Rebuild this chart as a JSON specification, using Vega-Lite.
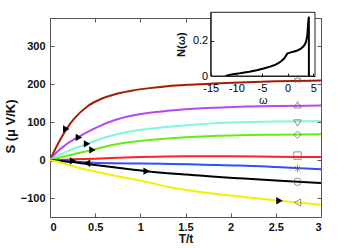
{
  "$schema": "https://vega.github.io/schema/vega-lite/v6.json",
  "width": 271,
  "height": 199,
  "autosize": {"type": "none"},
  "padding": {"left": 50, "top": 18, "right": 34, "bottom": 31},
  "background": "white",
  "config": {
    "view": {"stroke": null},
    "font": "Liberation Sans",
    "axis": {"grid": false, "domainColor": "#555", "tickColor": "#555", "labelColor": "#111", "titleColor": "#111", "labelOverlap": false}
  },
  "layer": [
    {
      "layer": [
        {
          "data": {"values": [
            {"s": "s1", "x": 0, "y": 0}, {"s": "s1", "x": 0.06, "y": 30}, {"s": "s1", "x": 0.125, "y": 59}, {"s": "s1", "x": 0.18, "y": 81}, {"s": "s1", "x": 0.27, "y": 110}, {"s": "s1", "x": 0.42, "y": 143}, {"s": "s1", "x": 0.57, "y": 162}, {"s": "s1", "x": 0.72, "y": 174}, {"s": "s1", "x": 0.9, "y": 183}, {"s": "s1", "x": 1.1, "y": 190}, {"s": "s1", "x": 1.3, "y": 195}, {"s": "s1", "x": 1.55, "y": 199}, {"s": "s1", "x": 1.8, "y": 202}, {"s": "s1", "x": 2.1, "y": 205}, {"s": "s1", "x": 2.5, "y": 208}, {"s": "s1", "x": 3, "y": 210},
            {"s": "s2", "x": 0, "y": 0}, {"s": "s2", "x": 0.08, "y": 22}, {"s": "s2", "x": 0.16, "y": 38}, {"s": "s2", "x": 0.32, "y": 62}, {"s": "s2", "x": 0.53, "y": 88}, {"s": "s2", "x": 0.72, "y": 106}, {"s": "s2", "x": 0.9, "y": 117}, {"s": "s2", "x": 1.1, "y": 125}, {"s": "s2", "x": 1.3, "y": 130}, {"s": "s2", "x": 1.55, "y": 135}, {"s": "s2", "x": 1.8, "y": 138}, {"s": "s2", "x": 2.1, "y": 141}, {"s": "s2", "x": 2.5, "y": 143}, {"s": "s2", "x": 3, "y": 144},
            {"s": "s3", "x": 0, "y": 0}, {"s": "s3", "x": 0.1, "y": 13}, {"s": "s3", "x": 0.2, "y": 24}, {"s": "s3", "x": 0.41, "y": 43}, {"s": "s3", "x": 0.55, "y": 55}, {"s": "s3", "x": 0.72, "y": 67}, {"s": "s3", "x": 0.9, "y": 76}, {"s": "s3", "x": 1.1, "y": 83}, {"s": "s3", "x": 1.3, "y": 88}, {"s": "s3", "x": 1.55, "y": 93}, {"s": "s3", "x": 1.8, "y": 97}, {"s": "s3", "x": 2.1, "y": 100}, {"s": "s3", "x": 2.5, "y": 102}, {"s": "s3", "x": 3, "y": 103},
            {"s": "s4", "x": 0, "y": 0}, {"s": "s4", "x": 0.2, "y": 12}, {"s": "s4", "x": 0.47, "y": 27}, {"s": "s4", "x": 0.72, "y": 41}, {"s": "s4", "x": 1.0, "y": 51}, {"s": "s4", "x": 1.3, "y": 57}, {"s": "s4", "x": 1.55, "y": 61}, {"s": "s4", "x": 1.8, "y": 64}, {"s": "s4", "x": 2.1, "y": 66}, {"s": "s4", "x": 2.5, "y": 67}, {"s": "s4", "x": 3, "y": 68},
            {"s": "s5", "x": 0, "y": 0}, {"s": "s5", "x": 0.25, "y": 2}, {"s": "s5", "x": 0.5, "y": 4}, {"s": "s5", "x": 1, "y": 8}, {"s": "s5", "x": 1.5, "y": 10}, {"s": "s5", "x": 2, "y": 10}, {"s": "s5", "x": 2.5, "y": 9}, {"s": "s5", "x": 3, "y": 8},
            {"s": "s6", "x": 0, "y": 0}, {"s": "s6", "x": 0.2, "y": -3}, {"s": "s6", "x": 0.42, "y": -6}, {"s": "s6", "x": 0.7, "y": -8}, {"s": "s6", "x": 1, "y": -9}, {"s": "s6", "x": 1.33, "y": -10}, {"s": "s6", "x": 1.7, "y": -12}, {"s": "s6", "x": 2.1, "y": -14}, {"s": "s6", "x": 2.5, "y": -18}, {"s": "s6", "x": 3, "y": -24},
            {"s": "s7", "x": 0, "y": 0}, {"s": "s7", "x": 0.25, "y": -5}, {"s": "s7", "x": 0.5, "y": -13}, {"s": "s7", "x": 0.75, "y": -20}, {"s": "s7", "x": 1.07, "y": -29}, {"s": "s7", "x": 1.5, "y": -38}, {"s": "s7", "x": 2.1, "y": -48}, {"s": "s7", "x": 2.5, "y": -54}, {"s": "s7", "x": 3, "y": -60},
            {"s": "s8", "x": 0, "y": 0}, {"s": "s8", "x": 0.1, "y": -5}, {"s": "s8", "x": 0.2, "y": -12}, {"s": "s8", "x": 0.35, "y": -22}, {"s": "s8", "x": 0.5, "y": -30}, {"s": "s8", "x": 0.72, "y": -41}, {"s": "s8", "x": 1.0, "y": -54}, {"s": "s8", "x": 1.1, "y": -59}, {"s": "s8", "x": 1.3, "y": -70}, {"s": "s8", "x": 1.55, "y": -80}, {"s": "s8", "x": 1.8, "y": -88}, {"s": "s8", "x": 2.1, "y": -96}, {"s": "s8", "x": 2.54, "y": -107}, {"s": "s8", "x": 3, "y": -118}
          ]},
          "mark": {"type": "line", "strokeWidth": 2, "clip": true, "interpolate": "monotone"},
          "encoding": {
            "x": {"field": "x", "type": "quantitative", "scale": {"domain": [0, 3], "nice": false, "zero": false},
              "axis": {"orient": "bottom", "title": "T/t", "values": [0, 0.5, 1, 1.5, 2, 2.5, 3], "format": "~g", "tickSize": -4, "labelPadding": 8, "labelFontSize": 11, "labelFontWeight": "bold", "titleFontSize": 12, "titleFontWeight": "bold", "titlePadding": 1}},
            "y": {"field": "y", "type": "quantitative", "scale": {"domain": [-150, 375], "nice": false, "zero": false},
              "axis": {"orient": "left", "title": "S   (μ  V/K)", "titleY": 108, "values": [-100, 0, 100, 200, 300], "tickSize": -4, "labelPadding": 9, "labelFontSize": 11, "labelFontWeight": "bold", "titleFontSize": 13, "titleFontWeight": "bold", "titlePadding": 3}},
            "color": {"field": "s", "type": "nominal", "legend": null,
              "scale": {"domain": ["s1", "s2", "s3", "s4", "s5", "s6", "s7", "s8"], "range": ["#a61c00", "#b945f5", "#80f5e0", "#62ec1e", "#ff2020", "#3050ff", "#000000", "#f2f200"]}}
          }
        },
        {
          "data": {"values": [
            {"s": "s1", "x": 2.74, "y": 212}, {"s": "s2", "x": 2.74, "y": 146}, {"s": "s3", "x": 2.74, "y": 98}, {"s": "s4", "x": 2.74, "y": 67}, {"s": "s5", "x": 2.74, "y": 12}, {"s": "s6", "x": 2.74, "y": -22}, {"s": "s7", "x": 2.74, "y": -57}, {"s": "s8", "x": 2.74, "y": -112}
          ]},
          "mark": {"type": "point", "filled": false, "color": "#666", "size": 55, "strokeWidth": 1},
          "encoding": {
            "x": {"field": "x", "type": "quantitative"},
            "y": {"field": "y", "type": "quantitative"},
            "shape": {"field": "s", "type": "nominal", "legend": null,
              "scale": {"domain": ["s1", "s2", "s3", "s4", "s5", "s6", "s7", "s8"],
                "range": ["M0,-1L0.235,-0.324L0.951,-0.309L0.38,0.124L0.588,0.809L0,0.4L-0.588,0.809L-0.38,0.124L-0.951,-0.309L-0.235,-0.324Z", "triangle-up", "triangle-down", "diamond", "square", "M-1,0L1,0M0,-1L0,1M-0.7,-0.7L0.7,0.7M-0.7,0.7L0.7,-0.7", "circle", "triangle-left"]}}
          }
        },
        {
          "data": {"values": [
            {"d": "right", "x": 0.18, "y": 82}, {"d": "right", "x": 0.32, "y": 60}, {"d": "right", "x": 0.41, "y": 43}, {"d": "right", "x": 0.47, "y": 27}, {"d": "right", "x": 0.255, "y": -2}, {"d": "left", "x": 0.41, "y": -8}, {"d": "right", "x": 1.07, "y": -29}, {"d": "right", "x": 2.54, "y": -107}
          ]},
          "mark": {"type": "point", "filled": true, "color": "#000", "size": 55, "opacity": 1},
          "encoding": {
            "x": {"field": "x", "type": "quantitative"},
            "y": {"field": "y", "type": "quantitative"},
            "shape": {"field": "d", "type": "nominal", "legend": null,
              "scale": {"domain": ["right", "left"], "range": ["triangle-right", "triangle-left"]}}
          }
        }
      ],
      "resolve": {"scale": {"shape": "independent"}}
    },
    {
      "mark": {"type": "rule", "color": "#888", "strokeDash": [4, 3], "strokeWidth": 1},
      "encoding": {
        "x": {"datum": 0, "type": "quantitative", "scale": {"domain": [0, 3], "nice": false, "zero": false},
          "axis": {"orient": "top", "title": null, "labels": false, "values": [0, 0.5, 1, 1.5, 2, 2.5, 3], "tickSize": -4}},
        "x2": {"datum": 3},
        "y": {"datum": 0, "type": "quantitative", "scale": {"domain": [-150, 375], "nice": false, "zero": false},
          "axis": {"orient": "right", "title": null, "labels": false, "values": [-100, 0, 100, 200, 300], "tickSize": -4}}
      }
    },
    {
      "layer": [
        {
          "data": {"values": [{}]},
          "mark": {"type": "rect", "fill": "white", "stroke": "#222", "strokeWidth": 1},
          "encoding": {
            "x": {"datum": -15, "type": "quantitative", "scale": {"domain": [-15, 5.35], "range": [160.7, 265], "nice": false, "zero": false},
              "axis": {"orient": "bottom", "offset": -141, "zindex": 2, "title": "ω", "values": [-15, -10, -5, 0, 5], "format": "d", "labelExpr": "replace(datum.label, '−', '-')", "tickSize": -3, "labelPadding": 9, "labelFontSize": 11, "labelColor": "#000", "labelOverlap": false, "labelFlush": false, "labelBound": false, "titleFontSize": 11, "titlePadding": 1, "titleFontWeight": "normal", "domainColor": "#222", "tickColor": "#222"}},
            "x2": {"datum": 5.35},
            "y": {"datum": 0, "type": "quantitative", "scale": {"domain": [0, 0.36], "range": [58, -5.7], "nice": false, "zero": false},
              "axis": {"orient": "left", "offset": -160.7, "zindex": 2, "title": "N(ω)", "values": [0, 0.2], "format": "~g", "tickSize": -3, "labelPadding": 6, "labelFontSize": 11, "labelColor": "#000", "labelOverlap": false, "labelFlush": false, "titleFontSize": 11, "titleFontWeight": "bold", "titlePadding": 6, "domainColor": "#222", "tickColor": "#222"}},
            "y2": {"datum": 0.36}
          }
        },
        {
          "data": {"values": [
            {"w": -12.1, "n": 0}, {"w": -11, "n": 0.008}, {"w": -9.3, "n": 0.015}, {"w": -7.5, "n": 0.024}, {"w": -6, "n": 0.033}, {"w": -4.5, "n": 0.044}, {"w": -3.4, "n": 0.053}, {"w": -2.5, "n": 0.062}, {"w": -1.8, "n": 0.072}, {"w": -1.2, "n": 0.085}, {"w": -0.64, "n": 0.1}, {"w": -0.3, "n": 0.115}, {"w": -0.1, "n": 0.125}, {"w": 0, "n": 0.128}, {"w": 0.5, "n": 0.132}, {"w": 1.1, "n": 0.137}, {"w": 1.6, "n": 0.141}, {"w": 2.1, "n": 0.147}, {"w": 2.6, "n": 0.155}, {"w": 3.07, "n": 0.166}, {"w": 3.4, "n": 0.18}, {"w": 3.6, "n": 0.194}, {"w": 3.75, "n": 0.215}, {"w": 3.85, "n": 0.232}, {"w": 3.95, "n": 0.27}, {"w": 4.04, "n": 0.307}, {"w": 4.15, "n": 0.335}, {"w": 4.16, "n": 0}
          ]},
          "mark": {"type": "line", "color": "#000", "strokeWidth": 2},
          "encoding": {
            "x": {"field": "w", "type": "quantitative"},
            "y": {"field": "n", "type": "quantitative"}
          }
        }
      ]
    }
  ],
  "resolve": {"scale": {"x": "independent", "y": "independent"}}
}
